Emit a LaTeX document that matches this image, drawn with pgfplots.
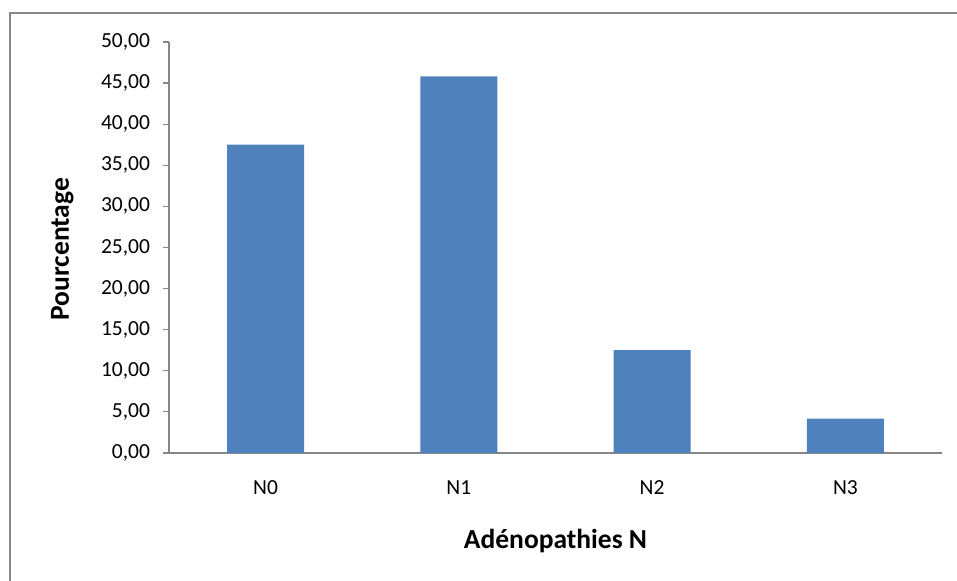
\documentclass[border=0pt]{standalone}
\usepackage{fontspec}
\setmainfont{Carlito}
\usepackage{pgfplots}
\pgfplotsset{compat=1.18}
\definecolor{barblue}{HTML}{4F81BD}
\definecolor{axgray}{HTML}{868686}
\newcommand\tickfont{\fontsize{21.5bp}{24bp}\selectfont}
\newcommand\labfont{\bfseries\fontsize{27.5bp}{31bp}\selectfont}
\begin{document}
\begin{tikzpicture}[x=1bp,y=1bp]
\useasboundingbox (0,0) rectangle (957,581);
\draw[axgray, line width=2bp] (10,0) -- (10,568) -- (957,568);
\begin{axis}[
  at={(169bp,128bp)}, anchor=south west,
  scale only axis, width=773bp, height=411bp,
  xmin=-0.5, xmax=3.5, ymin=0, ymax=50,
  axis lines*=left,
  axis line style={axgray, line width=1.2bp},
  every tick/.style={axgray, line width=1.2bp},
  tick align=outside,
  ytick={0,5,...,50},
  major tick length=6bp,
  xtick={0,1,2,3},
  xticklabels={N0,N1,N2,N3},
  x tick style={draw=none},
  extra x ticks={-0.5,0.5,1.5,2.5,3.5},
  extra x tick labels={},
  extra x tick style={tick style={axgray, line width=1.2bp}, major tick length=6bp},
  yticklabel style={/pgf/number format/fixed, /pgf/number format/fixed zerofill, /pgf/number format/precision=2, /pgf/number format/use comma},
  /pgf/number format/assume math mode=true,
  tick label style={font=\tickfont, text=black},
  xticklabel style={yshift=-18bp},
  yticklabel style={xshift=-9.5bp},
  xlabel={Adénopathies N},
  ylabel={Pourcentage},
  label style={font=\labfont},
  xlabel style={at={(axis description cs:0.5,-0.214)}, anchor=center},
  ylabel style={at={(axis description cs:-0.138,0.496)}, anchor=center},
  ybar, bar width=77bp,
]
\addplot[fill=barblue, draw=none] coordinates {(0,37.5) (1,45.83) (2,12.5) (3,4.17)};
\end{axis}
\end{tikzpicture}
\end{document}
